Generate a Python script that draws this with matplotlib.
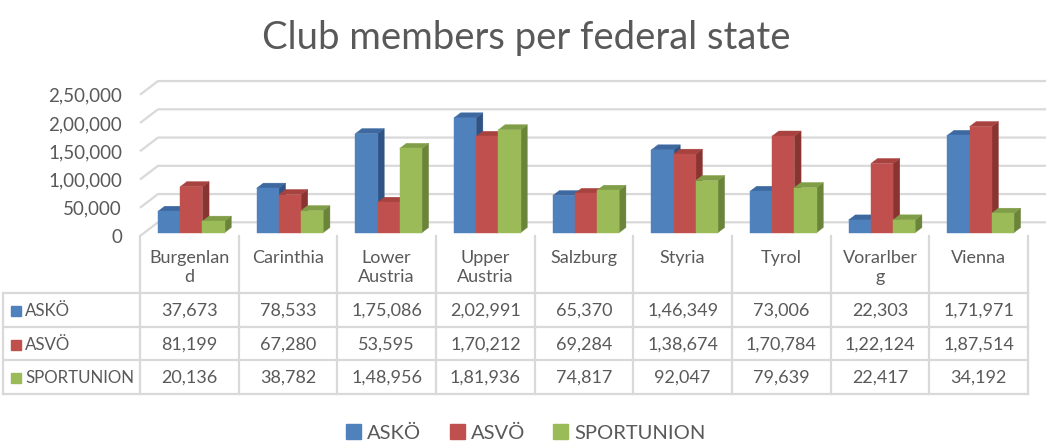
import matplotlib.pyplot as plt
from matplotlib.patches import Polygon, Patch

plt.rcParams["font.family"] = ["Lato", "DejaVu Sans"]

CATEGORIES = ["Burgenland", "Carinthia", "Lower Austria", "Upper Austria", "Salzburg",
              "Styria", "Tyrol", "Vorarlberg", "Vienna"]
SERIES_NAMES = ["ASKÖ", "ASVÖ", "SPORTUNION"]
ASKO = [37673, 78533, 175086, 202991, 65370, 146349, 73006, 22303, 171971]
ASVO = [81199, 67280, 53595, 170212, 69284, 138674, 170784, 122124, 187514]
SPORTUNION = [20136, 38782, 148956, 181936, 74817, 92047, 79639, 22417, 34192]
Y_TICKS = [0, 50000, 100000, 150000, 200000, 250000]

FRONT = ["#4F81BD", "#C0504D", "#9BBB59"]
TOP = ["#3D69A0", "#A7423F", "#809E48"]
SIDE = ["#2F5384", "#8A3431", "#6A853A"]
GRID = "#D9D9D9"
TEXT = "#595959"

W, H = 1052, 445
PX_PER_CAT = 888 / 9
DX = 18 / PX_PER_CAT          # depth offset in category units
DY = 13.7 / 0.565 * 1000      # depth offset in value units
D0, D1 = 0.25, 0.62           # bar depth range
BAR_W = 0.225


def indian(n):
    s = str(int(n))
    if len(s) <= 3:
        return s
    head, tail = s[:-3], s[-3:]
    groups = []
    while len(head) > 2:
        groups.insert(0, head[-2:])
        head = head[:-2]
    if head:
        groups.insert(0, head)
    return ",".join(groups) + "," + tail


def wrap(name):
    if " " in name:
        return name.replace(" ", "\n")
    if len(name) > 9:
        return name[:9] + "\n" + name[9:]
    return name


fig = plt.figure(figsize=(W / 100, H / 100), dpi=100)
ax = fig.add_axes([140 / W, 1 - 236 / H, 888 / W, (236 - 94.75) / H])
ax.set_xlim(0, 9)
ax.set_ylim(0, 250000)
for s in ax.spines.values():
    s.set_visible(False)
ax.set_xticks([])
ax.set_yticks(Y_TICKS)
ax.set_yticklabels([indian(v) for v in Y_TICKS], fontsize=13.5, color=TEXT)
ax.tick_params(axis="y", length=0, pad=13)
ax.patch.set_alpha(0)

# side wall + back wall gridlines
for v in Y_TICKS:
    ax.plot([0, DX, 9 + DX], [v, v + DY, v + DY], color=GRID, lw=1.6,
            clip_on=False, zorder=1, solid_capstyle="butt")

series = [ASKO, ASVO, SPORTUNION]
for i in range(len(CATEGORIES)):
    left0 = i + 0.5 - 1.5 * BAR_W - D0 * DX + 0.02
    for j, vals in enumerate(series):
        v = vals[i]
        xl = left0 + j * BAR_W
        xr = xl + BAR_W
        side = [(xr + D0 * DX, D0 * DY), (xr + D1 * DX, D1 * DY),
                (xr + D1 * DX, D1 * DY + v), (xr + D0 * DX, D0 * DY + v)]
        top = [(xl + D0 * DX, D0 * DY + v), (xr + D0 * DX, D0 * DY + v),
               (xr + D1 * DX, D1 * DY + v), (xl + D1 * DX, D1 * DY + v)]
        front = [(xl + D0 * DX, D0 * DY), (xr + D0 * DX, D0 * DY),
                 (xr + D0 * DX, D0 * DY + v), (xl + D0 * DX, D0 * DY + v)]
        for poly, col in ((side, SIDE[j]), (top, TOP[j]), (front, FRONT[j])):
            ax.add_patch(Polygon(poly, closed=True, facecolor=col, edgecolor=col,
                                 lw=0.3, zorder=3, clip_on=False))

# data table
tax = fig.add_axes([3 / W, 1 - 394 / H, 1025 / W, 158 / H])
tax.set_xlim(-137 / PX_PER_CAT, 9)
tax.set_ylim(158, 0)
tax.axis("off")
row_edges = [57, 91, 124, 158]
for k in range(10):
    tax.plot([k, k], [0, 158], color=GRID, lw=1.6, clip_on=False)
tax.plot([-137 / PX_PER_CAT] * 2, [57, 158], color=GRID, lw=1.6, clip_on=False)
for y in row_edges:
    tax.plot([-137 / PX_PER_CAT, 9], [y, y], color=GRID, lw=1.6, clip_on=False)

for i, name in enumerate(CATEGORIES):
    tax.text(i + 0.5, 14, wrap(name), ha="center", va="top", fontsize=13,
             color=TEXT, linespacing=1.25)

for j, (name, vals) in enumerate(zip(SERIES_NAMES, series)):
    yc = (row_edges[j] + row_edges[j + 1]) / 2 + 1
    tax.plot([-124 / PX_PER_CAT], [yc], marker="s", ms=7, color=FRONT[j],
             clip_on=False)
    tax.text(-115 / PX_PER_CAT, yc, name, ha="left", va="center", fontsize=12.2,
             color=TEXT)
    for i, v in enumerate(vals):
        tax.text(i + 0.5, yc, indian(v), ha="center", va="center", fontsize=13,
                 color=TEXT)

fig.text(0.5, 1 - 38 / H, "Club members per federal state", ha="center",
         va="center", fontsize=27.5, color=TEXT)

handles = [Patch(facecolor=c, edgecolor=c) for c in FRONT]
fig.legend(handles, SERIES_NAMES, loc="center", bbox_to_anchor=(0.5, 1 - 433 / H),
           ncol=3, frameon=False, fontsize=14.5, labelcolor=TEXT,
           handlelength=0.75, handleheight=0.75, handletextpad=0.3,
           columnspacing=1.4)

fig.savefig("out.png", dpi=100)
